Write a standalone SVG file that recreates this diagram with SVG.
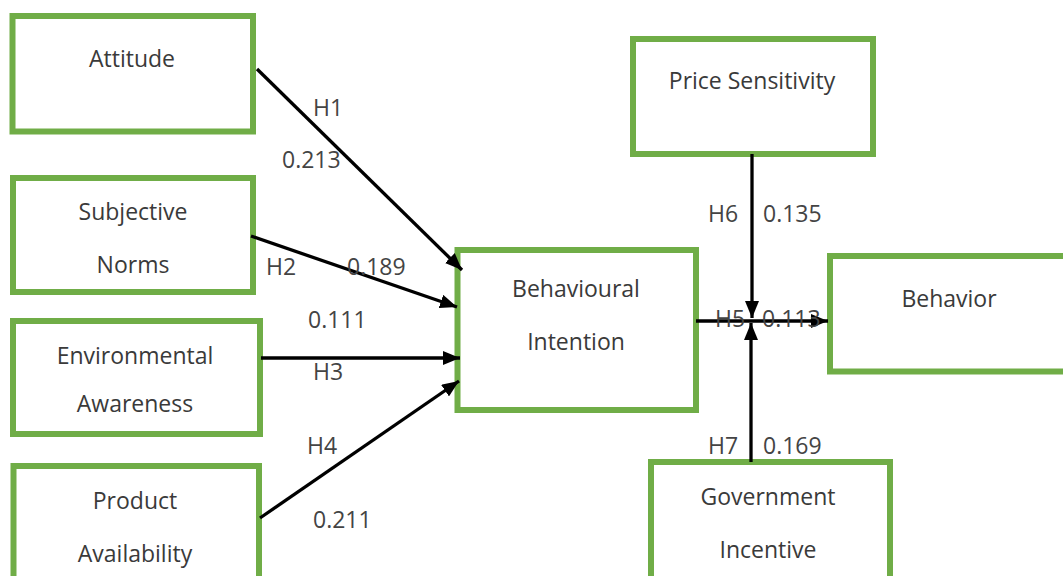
<svg xmlns="http://www.w3.org/2000/svg" width="1063" height="576" viewBox="0 0 1063 576">
<style>
.box{fill:#fff;stroke:#70ad47;stroke-width:6}
.t{font-family:"Open Sans","Noto Sans",sans-serif;font-size:23px;fill:#3a3a3a;text-anchor:middle}
.l{font-family:"Open Sans","Noto Sans",sans-serif;font-size:23px;fill:#444}
.c{stroke:#000;stroke-width:3.3;fill:none;marker-end:url(#ah)}
</style>
<defs>
<marker id="ah" markerUnits="userSpaceOnUse" markerWidth="18" markerHeight="14" refX="17" refY="7" orient="auto">
<path d="M0,0 L17,7 L0,14 z" fill="#000"/>
</marker>
</defs>
<rect width="1063" height="576" fill="#fff"/>
<g id="attitude"><rect class="box" x="12.5" y="16" width="240.5" height="115.5"/><text class="t" x="132" y="67">Attitude</text></g>
<g id="subjective-norms"><rect class="box" x="13" y="178" width="240" height="114"/><text class="t" x="133" y="220">Subjective</text><text class="t" x="133" y="273">Norms</text></g>
<g id="environmental-awareness"><rect class="box" x="13" y="321" width="247" height="113"/><text class="t" x="135" y="364">Environmental</text><text class="t" x="135" y="412">Awareness</text></g>
<g id="product-availability"><rect class="box" x="13.5" y="466" width="245.5" height="120"/><text class="t" x="135" y="509">Product</text><text class="t" x="135" y="562">Availability</text></g>
<g id="behavioural-intention"><rect class="box" x="457.5" y="250" width="238.5" height="160"/><text class="t" x="576" y="297">Behavioural</text><text class="t" x="576" y="350">Intention</text></g>
<g id="price-sensitivity"><rect class="box" x="633" y="39" width="240" height="115"/><text class="t" x="752" y="89">Price Sensitivity</text></g>
<g id="behavior"><rect class="box" x="830" y="256" width="240" height="115.5"/><text class="t" x="949" y="307">Behavior</text></g>
<g id="government-incentive"><rect class="box" x="651" y="462" width="239" height="120"/><text class="t" x="768" y="505">Government</text><text class="t" x="768" y="558">Incentive</text></g>
<g id="connectors">
<line class="c" x1="257" y1="69" x2="462" y2="270"/>
<line class="c" x1="251" y1="236" x2="457" y2="307"/>
<line class="c" x1="261" y1="358" x2="460" y2="358"/>
<line class="c" x1="260" y1="518" x2="459" y2="381"/>
<line class="c" x1="696" y1="321" x2="828" y2="321"/>
<line class="c" x1="752" y1="154" x2="752" y2="318"/>
<line class="c" x1="751" y1="462" x2="751" y2="323"/>
</g>
<g id="labels">
<text class="l" x="313" y="116">H1</text>
<text class="l" x="282" y="168">0.213</text>
<text class="l" x="266" y="275">H2</text>
<text class="l" x="347" y="275">0.189</text>
<text class="l" x="308" y="328">0.111</text>
<text class="l" x="313" y="380">H3</text>
<text class="l" x="307" y="454">H4</text>
<text class="l" x="313" y="528">0.211</text>
<text class="l" x="708" y="222">H6</text>
<text class="l" x="763" y="222">0.135</text>
<text class="l" x="715" y="327">H5</text>
<text class="l" x="762" y="327">0.113</text>
<text class="l" x="708" y="454">H7</text>
<text class="l" x="763" y="454">0.169</text>
</g>
</svg>
